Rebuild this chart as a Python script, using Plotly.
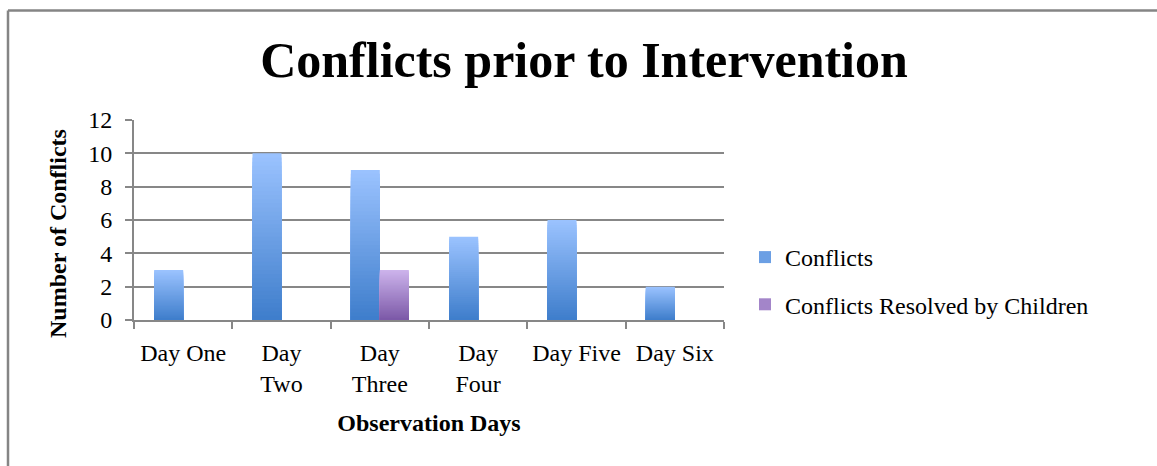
import plotly.graph_objects as go

categories = ["Day One", "Day Two", "Day Three", "Day Four", "Day Five", "Day Six"]
tick_labels = ["Day One", "Day<br>Two", "Day<br>Three", "Day<br>Four", "Day Five", "Day Six"]
conflicts = [3, 10, 9, 5, 6, 2]
resolved = [0, 0, 3, 0, 0, 0]

W, H = 1157, 466
L, R, T, B = 134, 433, 120, 146
pw, ph = W - L - R, H - T - B

FONT = "Liberation Serif"
N = 40  # gradient layers per bar


def lerp(c1, c2, t):
    return "rgb(%d,%d,%d)" % tuple(round(a + (b - a) * t) for a, b in zip(c1, c2))


series = [
    ("Conflicts", conflicts, (62, 125, 203), (155, 195, 255), "c"),
    ("Conflicts Resolved by Children", resolved, (123, 88, 167), (205, 180, 236), "r"),
]

fig = go.Figure()
for name, vals, bottom, top, grp in series:
    # overlapping layers from full height (light) down to short (dark) -> smooth gradient
    for k in range(N):
        frac = (N - k) / N
        t = (N - k - 0.5) / N
        fig.add_trace(go.Bar(
            x=categories,
            y=[v * frac for v in vals],
            offsetgroup=grp,
            legendgroup=grp,
            name=name,
            showlegend=(k == N // 2),
            marker=dict(color=lerp(bottom, top, t), line=dict(width=0)),
            hoverinfo="skip",
        ))

grid = "#878787"
fig.update_layout(
    width=W, height=H,
    margin=dict(l=L, r=R, t=T, b=B, autoexpand=False),
    paper_bgcolor="white", plot_bgcolor="white",
    barmode="group", bargap=0.41, bargroupgap=0,
    font=dict(family=FONT, color="black", size=24),
    title=dict(text="<b>Conflicts prior to Intervention</b>",
               font=dict(family=FONT, size=50, color="black"),
               x=584 / W, xref="container", xanchor="center",
               y=1 - 59 / H, yref="container", yanchor="middle"),
    legend=dict(x=(745 - L) / pw, xanchor="left", y=1 - (281 - T) / ph, yanchor="middle",
                font=dict(family=FONT, size=24), traceorder="grouped",
                tracegroupgap=13, itemwidth=30, bgcolor="rgba(0,0,0,0)"),
    showlegend=True,
    xaxis=dict(tickmode="array", tickvals=categories, ticktext=tick_labels,
               tickson="boundaries", ticks="outside", ticklen=7, tickwidth=1.5,
               tickcolor=grid, showline=True, linecolor=grid, linewidth=2,
               showgrid=False, tickfont=dict(size=24, family=FONT),
               ticklabelstandoff=10,
               title=dict(text="<b>Observation Days</b>", font=dict(size=24, family=FONT), standoff=18)),
    yaxis=dict(range=[0, 12], dtick=2, ticks="outside", ticklen=7, tickwidth=1.5,
               tickcolor=grid, showline=True, linecolor=grid, linewidth=2,
               showgrid=True, gridcolor=grid, gridwidth=1.5, zeroline=False,
               ticklabelstandoff=8, tickfont=dict(size=24, family=FONT)),
    annotations=[dict(text="<b>Number of Conflicts</b>", textangle=-90,
                      xref="paper", yref="paper", x=(58 - L) / pw, y=1 - (234 - T) / ph,
                      xanchor="center", yanchor="middle", showarrow=False,
                      font=dict(size=24, family=FONT, color="black"))],
)

# outer chart border (left and top edges)
bx = (8 - L) / pw
by = 1 + (T - 10.5) / ph
fig.add_shape(type="line", xref="paper", yref="paper", x0=bx, x1=bx, y0=by, y1=-(B) / ph,
              line=dict(color="#858585", width=2.5))
fig.add_shape(type="line", xref="paper", yref="paper", x0=bx, x1=(W - L) / pw, y0=by, y1=by,
              line=dict(color="#858585", width=2.5))

fig.write_html("out.html")
